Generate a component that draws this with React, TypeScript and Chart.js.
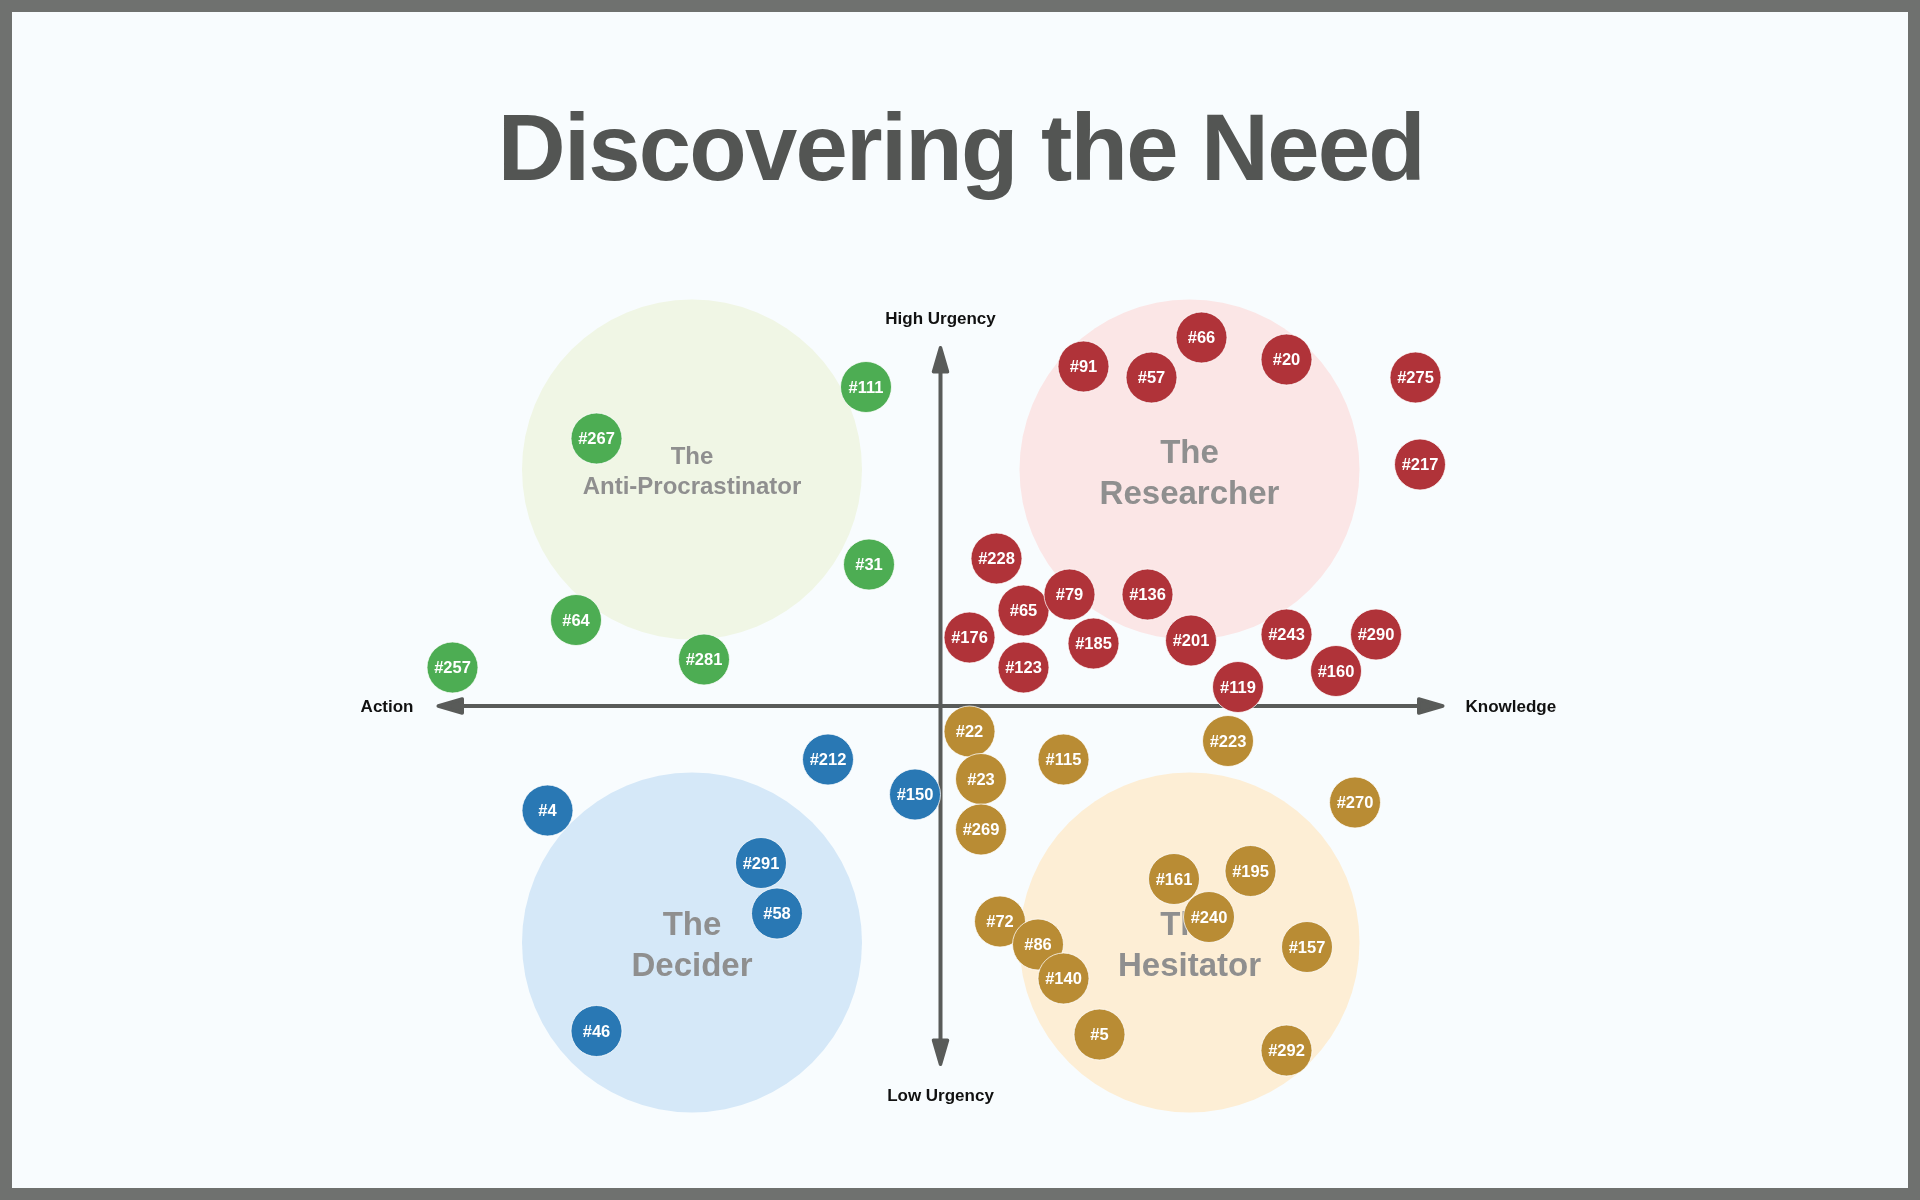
import React, { useEffect, useRef } from "react";
import { Chart, registerables } from "chart.js";

Chart.register(...registerables);

// ---------- data ----------
const TITLE = "Discovering the Need";

const groupLines = [
  ["The", "Anti-Procrastinator"],
  ["The", "Researcher"],
  ["The", "Decider"],
  ["The", "Hesitator"],
];
const groupX = [-4.97, 4.98, -4.97, 4.98];
const groupY = [4.73, 4.73, -4.73, -4.73];

const axisLeftLabel = "Action";
const axisRightLabel = "Knowledge";
const axisTopLabel = "High Urgency";
const axisBottomLabel = "Low Urgency";
const AXIS_X_EXTENT = 10.08;
const AXIS_Y_EXTENT = 7.2;

const greenLabels = ["#111", "#267", "#31", "#64", "#281", "#257"];
const greenX = [-1.49, -6.88, -1.43, -7.29, -4.73, -9.76];
const greenY = [6.38, 5.35, 2.83, 1.72, 0.93, 0.77];

const redLabels = ["#66", "#91", "#57", "#20", "#275", "#217", "#228", "#65", "#79", "#185", "#136", "#176", "#123", "#201", "#243", "#290", "#160", "#119"];
const redX = [5.22, 2.86, 4.22, 6.92, 9.5, 9.59, 1.12, 1.66, 2.58, 3.06, 4.14, 0.58, 1.66, 5.01, 6.92, 8.71, 7.91, 5.95];
const redY = [7.37, 6.79, 6.57, 6.93, 6.57, 4.83, 2.95, 1.91, 2.23, 1.25, 2.23, 1.37, 0.77, 1.31, 1.43, 1.43, 0.7, 0.38];

const blueLabels = ["#212", "#4", "#150", "#291", "#58", "#46"];
const blueX = [-2.25, -7.86, -0.51, -3.59, -3.27, -6.88];
const blueY = [-1.07, -2.09, -1.77, -3.14, -4.15, -6.5];

const goldLabels = ["#22", "#23", "#269", "#115", "#223", "#270", "#161", "#240", "#195", "#72", "#86", "#140", "#157", "#5", "#292"];
const goldX = [0.58, 0.81, 0.81, 2.46, 5.75, 8.29, 4.67, 5.37, 6.2, 1.19, 1.95, 2.46, 7.33, 3.18, 6.92];
const goldY = [-0.51, -1.46, -2.47, -1.07, -0.7, -1.93, -3.46, -4.22, -3.3, -4.31, -4.77, -5.45, -4.82, -6.57, -6.89];

// ---------- styles ----------
const X_MIN = -18.81;
const X_MAX = 19.59;
const Y_MIN = -9.88;
const Y_MAX = 14.12;
const BUBBLE_R = 25.5;
const GROUP_R = 170;
const FONT = "'Liberation Sans', Arial, Helvetica, sans-serif";
const GREEN = "#4dad53";
const RED = "#b03339";
const BLUE = "#2978b4";
const GOLD = "#b98c34";
const groupFills = ["#f0f6e5", "#fbe6e6", "#d5e8f8", "#fdeed5"];
const groupFontSizes = [24, 33, 33, 33];
const groupLineGaps = [30, 41, 41, 41];
const groupTextShift = [3, 5, 4, 4];
const AXIS_COLOR = "#595b59";
const TITLE_WIDTH = 928;

const BIG_INDEX = 4;
const pointLabels = [greenLabels, redLabels, blueLabels, goldLabels];

const mk = (xs: number[], ys: number[], r: number) => xs.map((x, i) => ({ x, y: ys[i], r }));

function arrowHead(ctx: CanvasRenderingContext2D, tipX: number, tipY: number, dx: number, dy: number) {
  const len = 24;
  const half = 7;
  const bx = tipX - dx * len;
  const by = tipY - dy * len;
  const px = -dy;
  const py = dx;
  ctx.beginPath();
  ctx.moveTo(tipX, tipY);
  ctx.lineTo(bx + px * half, by + py * half);
  ctx.lineTo(bx - px * half, by - py * half);
  ctx.closePath();
  ctx.fill();
  ctx.stroke();
}

const quadrantPlugin = {
  id: "quadrants",
  afterDatasetDraw(chart: any, args: any) {
    if (args.index !== BIG_INDEX) return;
    const ctx: CanvasRenderingContext2D = chart.ctx;
    const xs = chart.scales.x;
    const ys = chart.scales.y;
    const meta = chart.getDatasetMeta(BIG_INDEX);
    ctx.save();
    // group labels
    ctx.fillStyle = "#8f8f8f";
    ctx.textAlign = "center";
    ctx.textBaseline = "middle";
    meta.data.forEach((el: any, i: number) => {
      const lines = groupLines[i];
      ctx.font = `bold ${groupFontSizes[i]}px ${FONT}`;
      const gap = groupLineGaps[i];
      const startY = el.y - (gap * (lines.length - 1)) / 2 + groupTextShift[i];
      lines.forEach((t, j) => ctx.fillText(t, el.x, startY + j * gap));
    });
    // axes
    const cx = xs.getPixelForValue(0);
    const cy = ys.getPixelForValue(0);
    const left = xs.getPixelForValue(-AXIS_X_EXTENT);
    const right = xs.getPixelForValue(AXIS_X_EXTENT);
    const top = ys.getPixelForValue(AXIS_Y_EXTENT);
    const bottom = ys.getPixelForValue(-AXIS_Y_EXTENT);
    ctx.strokeStyle = AXIS_COLOR;
    ctx.fillStyle = AXIS_COLOR;
    ctx.lineWidth = 4;
    ctx.lineCap = "butt";
    ctx.beginPath();
    ctx.moveTo(left + 20, cy);
    ctx.lineTo(right - 20, cy);
    ctx.moveTo(cx, top + 20);
    ctx.lineTo(cx, bottom - 20);
    ctx.stroke();
    ctx.lineWidth = 3.5;
    ctx.lineJoin = "round";
    arrowHead(ctx, left + 1.75, cy, -1, 0);
    arrowHead(ctx, right - 1.75, cy, 1, 0);
    arrowHead(ctx, cx, top + 1.75, 0, -1);
    arrowHead(ctx, cx, bottom - 1.75, 0, 1);
    // axis labels
    ctx.fillStyle = "#111111";
    ctx.font = `bold 17px ${FONT}`;
    ctx.textBaseline = "middle";
    ctx.textAlign = "right";
    ctx.fillText(axisLeftLabel, left - 23, cy + 1);
    ctx.textAlign = "left";
    ctx.fillText(axisRightLabel, right + 21, cy + 1);
    ctx.textAlign = "center";
    ctx.fillText(axisTopLabel, cx, top - 27);
    ctx.fillText(axisBottomLabel, cx, bottom + 30);
    ctx.restore();
  },
};

const bubbleLabelPlugin = {
  id: "bubbleLabels",
  afterDatasetDraw(chart: any, args: any) {
    if (args.index === BIG_INDEX) return;
    const ctx: CanvasRenderingContext2D = chart.ctx;
    const meta = chart.getDatasetMeta(args.index);
    const labels = pointLabels[args.index];
    ctx.save();
    ctx.fillStyle = "#ffffff";
    ctx.font = `bold 16.5px ${FONT}`;
    ctx.textAlign = "center";
    ctx.textBaseline = "middle";
    meta.data.forEach((el: any, i: number) => ctx.fillText(labels[i], el.x, el.y + 1));
    ctx.restore();
  },
};

const titlePlugin = {
  id: "bigTitle",
  afterDraw(chart: any) {
    const ctx: CanvasRenderingContext2D = chart.ctx;
    ctx.save();
    ctx.font = `bold 94px ${FONT}`;
    (ctx as any).letterSpacing = "0px";
    const w = ctx.measureText(TITLE).width;
    const ls = (TITLE_WIDTH - w) / (TITLE.length - 1);
    (ctx as any).letterSpacing = `${ls}px`;
    ctx.fillStyle = "#535553";
    ctx.textAlign = "center";
    ctx.textBaseline = "alphabetic";
    ctx.fillText(TITLE, chart.width / 2 - ls / 2, 180);
    ctx.restore();
  },
};

export default function App() {
  const ref = useRef<HTMLCanvasElement>(null);
  useEffect(() => {
    const canvas = ref.current;
    if (!canvas) return;
    const bubbleStyle = { borderColor: "rgba(255,255,255,0.75)", borderWidth: 1, order: 0, clip: false as any };
    const chart = new Chart(canvas, {
      type: "bubble",
      data: {
        datasets: [
          { label: "Anti-Procrastinator", data: mk(greenX, greenY, BUBBLE_R), backgroundColor: GREEN, ...bubbleStyle },
          { label: "Researcher", data: mk(redX, redY, BUBBLE_R), backgroundColor: RED, ...bubbleStyle },
          { label: "Decider", data: mk(blueX, blueY, BUBBLE_R), backgroundColor: BLUE, ...bubbleStyle },
          { label: "Hesitator", data: mk(goldX, goldY, BUBBLE_R), backgroundColor: GOLD, ...bubbleStyle },
          { label: "Groups", data: mk(groupX, groupY, GROUP_R), backgroundColor: groupFills, borderWidth: 0, order: 1, clip: false as any },
        ],
      },
      options: {
        responsive: false,
        animation: false,
        events: [],
        layout: { padding: 0, autoPadding: false } as any,
        scales: {
          x: { type: "linear", min: X_MIN, max: X_MAX, display: false },
          y: { type: "linear", min: Y_MIN, max: Y_MAX, display: false },
        },
        plugins: {
          legend: { display: false },
          tooltip: { enabled: false },
          title: { display: false },
        },
      },
      plugins: [quadrantPlugin, bubbleLabelPlugin, titlePlugin],
    });
    return () => chart.destroy();
  }, []);

  return (
    <div style={{ position: "absolute", left: 0, top: 0, width: 1920, height: 1200, background: "#6f716f" }}>
      <div style={{ position: "absolute", left: 12, top: 12, right: 12, bottom: 12, background: "#f8fcfe" }} />
      <canvas ref={ref} width={1920} height={1200} style={{ position: "absolute", left: 0, top: 0, width: 1920, height: 1200 }} />
    </div>
  );
}
